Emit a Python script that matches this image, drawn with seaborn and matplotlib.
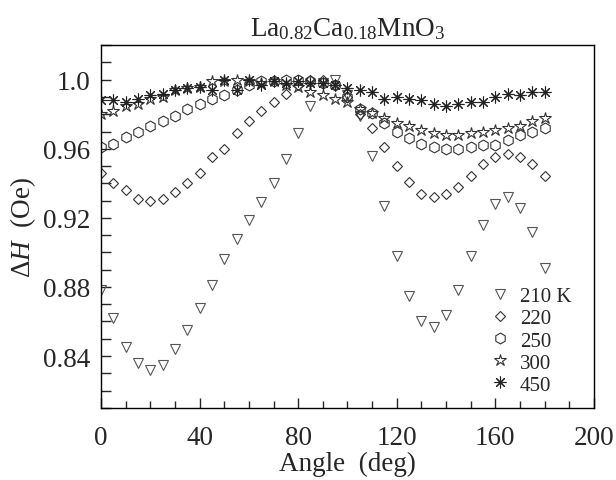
import numpy as np
import matplotlib
matplotlib.use('Agg')
import matplotlib.pyplot as plt
import seaborn as sns
from matplotlib.ticker import MultipleLocator

angles = np.arange(0, 181, 5)

dh_210 = [0.878, 0.862, 0.845, 0.836, 0.832, 0.835, 0.844, 0.855, 0.868, 0.881,
          0.896, 0.908, 0.919, 0.929, 0.940, 0.954, 0.969, 0.985, 0.998, 1.000,
          0.991, 0.979, 0.956, 0.927, 0.898, 0.875, 0.860, 0.857, 0.864, 0.878,
          0.898, 0.916, 0.928, 0.932, 0.926, 0.912, 0.891]
dh_220 = [0.946, 0.940, 0.936, 0.931, 0.930, 0.931, 0.935, 0.940, 0.946, 0.955,
          0.960, 0.969, 0.976, 0.982, 0.987, 0.992, 0.997, 1.000, 1.000, 0.997,
          0.990, 0.980, 0.972, 0.961, 0.950, 0.941, 0.934, 0.932, 0.934, 0.938,
          0.944, 0.951, 0.955, 0.957, 0.955, 0.951, 0.944]
dh_250 = [0.961, 0.963, 0.967, 0.970, 0.973, 0.976, 0.979, 0.983, 0.986, 0.989,
          0.991, 0.994, 0.997, 0.999, 0.999, 1.000, 1.000, 0.999, 0.998, 0.997,
          0.990, 0.983, 0.981, 0.975, 0.970, 0.966, 0.963, 0.961, 0.960, 0.960,
          0.961, 0.962, 0.962, 0.965, 0.968, 0.970, 0.972]
dh_300 = [0.980, 0.982, 0.985, 0.986, 0.989, 0.990, 0.994, 0.995, 0.996, 0.999,
          0.999, 1.000, 0.999, 0.998, 0.999, 0.997, 0.996, 0.993, 0.991, 0.989,
          0.987, 0.983, 0.981, 0.978, 0.975, 0.973, 0.971, 0.969, 0.968, 0.968,
          0.969, 0.970, 0.971, 0.972, 0.973, 0.976, 0.978]
dh_450 = [0.988, 0.988, 0.987, 0.989, 0.991, 0.992, 0.994, 0.995, 0.996, 0.994,
          1.000, 0.994, 1.000, 0.997, 0.999, 0.998, 0.999, 0.998, 0.998, 0.997,
          0.995, 0.994, 0.993, 0.989, 0.990, 0.989, 0.988, 0.986, 0.985, 0.986,
          0.987, 0.987, 0.990, 0.992, 0.991, 0.993, 0.993]

labels = ['210 K', '220', '250', '300', '450']
series = [dh_210, dh_220, dh_250, dh_300, dh_450]

sns.set_style('ticks')
plt.rcParams['font.family'] = ['Liberation Serif', 'DejaVu Serif']
plt.rcParams['mathtext.fontset'] = 'custom'
plt.rcParams['mathtext.rm'] = 'Liberation Serif'
plt.rcParams['mathtext.it'] = 'Liberation Serif:italic'

# marker style per temperature
styles = [
    dict(marker='v', markersize=7.5, markeredgecolor='#555555'),
    dict(marker='D', markersize=5.4, markeredgecolor='#333333'),
    dict(marker='h', markersize=7.8, markeredgecolor='#333333'),
    dict(marker='*', markersize=9.0, markeredgecolor='#333333'),
    dict(marker=(8, 2, 0), markersize=8.5, markeredgecolor='#222222'),
]

fig = plt.figure(figsize=(6.16, 4.81), dpi=100)
ax = fig.add_axes([0.164, 0.150, 0.800, 0.754])

for vals, lab, st in zip(series, labels, styles):
    sns.lineplot(x=angles, y=vals, ax=ax, linestyle='', label=lab,
                 markerfacecolor='none', markeredgewidth=0.8,
                 errorbar=None, sort=False, **st)

ax.set_xlim(0, 200)
ax.set_ylim(0.81, 1.02)
ax.xaxis.set_major_locator(MultipleLocator(40))
ax.xaxis.set_minor_locator(MultipleLocator(10))
ax.yaxis.set_major_locator(MultipleLocator(0.04))
ax.yaxis.set_minor_locator(MultipleLocator(0.01))
ax.set_yticks([0.84, 0.88, 0.92, 0.96, 1.0])
ax.set_yticklabels(['0.84', '0.88', '0.92', '0.96', '1.0'])

ax.tick_params(axis='both', which='both', direction='in', width=1.0,
               top=False, right=False, labelsize=19.5)
ax.tick_params(axis='x', which='major', length=7.5, pad=12)
ax.tick_params(axis='x', which='minor', length=4.8)
ax.tick_params(axis='y', which='both', length=7.5, pad=8)

for sp in ax.spines.values():
    sp.set_linewidth(1.0)
    sp.set_color('black')

ax.set_xlabel('Angle  (deg)', fontsize=19.5, labelpad=1)
ax.set_ylabel(r'$\Delta\mathit{H}$  (Oe)', fontsize=19.5, labelpad=3)
ax.set_title(r'La$_{0.82}$Ca$_{0.18}$MnO$_3$', fontsize=19.5, pad=7)

ax.legend(loc='center left', bbox_to_anchor=(0.789, 0.185), frameon=False,
          fontsize=15, handlelength=1.0, handletextpad=0.45,
          labelspacing=0.12, borderpad=0, borderaxespad=0)

fig.savefig('out.png', dpi=100)
